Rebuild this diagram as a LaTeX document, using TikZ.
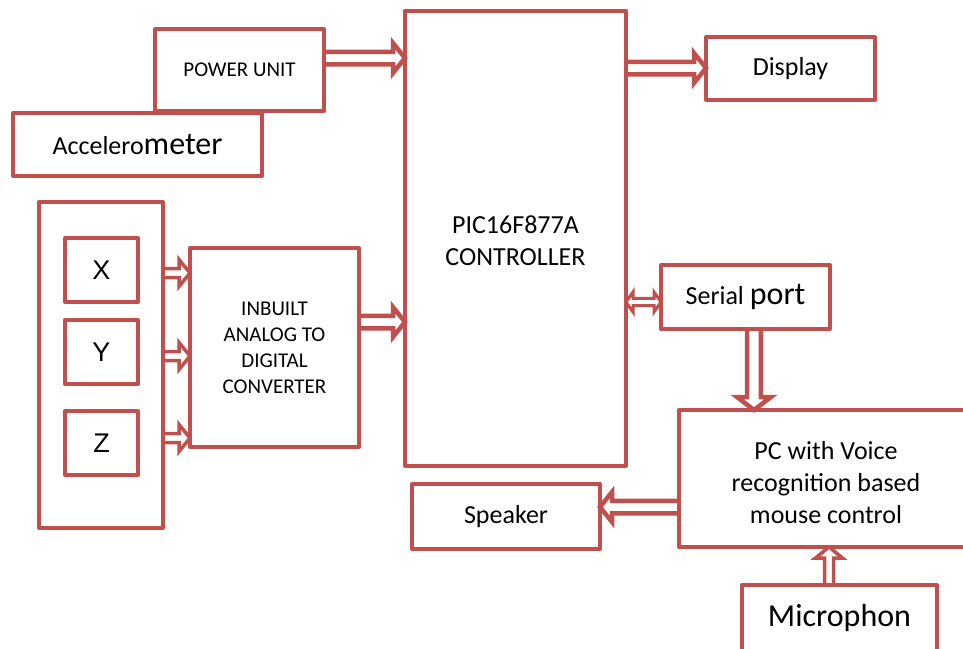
\documentclass[tikz,border=0pt]{standalone}
\usepackage{fontspec}
\setmainfont{Carlito}
\newfontfamily\arialf{Liberation Sans}
\usetikzlibrary{calc}
\definecolor{bred}{HTML}{C0504D}
\begin{document}
\begin{tikzpicture}[x=1pt,y=-1pt,
  box/.style={draw=bred, line width=4pt, fill=white, inner sep=0pt, outer sep=0pt,
    rectangle, align=center, line join=round, font=\fontsize{26}{32}\selectfont},
  txt/.style={inner sep=0pt, align=center, font=\fontsize{26}{32}\selectfont},
  smallbox/.style={box, font=\fontsize{21}{26}\selectfont},
  xyzbox/.style={box, minimum width=73pt, minimum height=64pt, font=\arialf\fontsize{27}{30}\selectfont},
  blkarrow/.style n args={3}{draw=bred, line join=miter, to path={
    ($(\tikztostart)!#1!90:(\tikztotarget)$)
    -- ($($(\tikztotarget)!#3!(\tikztostart)$)!#1!90:(\tikztotarget)$)
    -- ($($(\tikztotarget)!#3!(\tikztostart)$)!#2!90:(\tikztotarget)$)
    -- (\tikztotarget)
    -- ($($(\tikztotarget)!#3!(\tikztostart)$)!#2!-90:(\tikztotarget)$)
    -- ($($(\tikztotarget)!#3!(\tikztostart)$)!#1!-90:(\tikztotarget)$)
    -- ($(\tikztostart)!#1!-90:(\tikztotarget)$)}},
  blkdbl/.style n args={3}{draw=bred, line join=miter, to path={
    ($($(\tikztostart)!#3!(\tikztotarget)$)!#1!90:(\tikztotarget)$)
    -- ($($(\tikztotarget)!#3!(\tikztostart)$)!#1!90:(\tikztotarget)$)
    -- ($($(\tikztotarget)!#3!(\tikztostart)$)!#2!90:(\tikztotarget)$)
    -- (\tikztotarget)
    -- ($($(\tikztotarget)!#3!(\tikztostart)$)!#2!-90:(\tikztotarget)$)
    -- ($($(\tikztotarget)!#3!(\tikztostart)$)!#1!-90:(\tikztotarget)$)
    -- ($($(\tikztostart)!#3!(\tikztotarget)$)!#1!-90:(\tikztotarget)$)
    -- ($($(\tikztostart)!#3!(\tikztotarget)$)!#2!-90:(\tikztotarget)$)
    -- (\tikztostart)
    -- ($($(\tikztostart)!#3!(\tikztotarget)$)!#2!90:(\tikztotarget)$)
    -- cycle}},
  bigarr/.style={blkarrow={6.25pt}{15pt}{12pt}, line width=4.5pt},
  smlarr/.style={blkarrow={4.5pt}{13.5pt}{11pt}, line width=3.5pt},
  serarr/.style={blkarrow={6.8pt}{17pt}{13pt}, line width=4.5pt},
  dblarr/.style={blkdbl={3.6pt}{10pt}{7pt}, line width=3pt}]
\useasboundingbox (0,0) rectangle (963,648);
\clip (0,0) rectangle (963,648);
\fill[white] (0,0) rectangle (963,648);

\node[smallbox, minimum width=169pt, minimum height=82pt] (power) at (239.5,70) {POWER UNIT};
\node[box, minimum width=249pt, minimum height=63pt] (accel) at (137.5,144.5) {Accelero{\fontsize{32}{32}\selectfont meter}};
\node[box, minimum width=221pt, minimum height=455pt] (ctrl) at (515.5,238) {};
\node[txt] (ctrltext) at ($(ctrl.center)+(0,3)$) {PIC16F877A\\CONTROLLER};
\node[box, minimum width=169pt, minimum height=63pt] (display) at (790.5,68.5) {Display};

\node[box, minimum width=124pt, minimum height=326pt] (outer) at (101,365) {};
\node[xyzbox] (X) at (101.5,270) {X};
\node[xyzbox] (Y) at (101.5,352) {Y};
\node[xyzbox] (Z) at (101.5,443) {Z};

\node[smallbox, minimum width=169pt, minimum height=199pt] (adc) at (274.5,347.5) {INBUILT\\ANALOG TO\\DIGITAL\\CONVERTER};
\node[box, minimum width=169pt, minimum height=64pt] (serial) at (745.5,297) {Serial {\fontsize{32}{32}\selectfont port}};
\node[box, minimum width=294pt, minimum height=137pt] (pc) at (826,478.5) {};
\node[txt] (pctext) at ($(pc.center)+(0,4)$) {PC with Voice\\recognition based\\mouse control};
\node[box, minimum width=188pt, minimum height=65pt] (speaker) at (506,516.5) {Speaker};
\node[box, minimum width=195pt, minimum height=66pt, font=\fontsize{32}{32}\selectfont] (mic) at (839.5,618) {Microphon};

\draw[bigarr] (power.east |- 0,58) to (ctrl.west |- 0,58);
\draw[bigarr] (ctrl.east |- 0,68) to (display.west |- 0,68);
\draw[smlarr] (outer.east |- 0,273) to (adc.west |- 0,273);
\draw[smlarr] (outer.east |- 0,356) to (adc.west |- 0,356);
\draw[smlarr] (outer.east |- 0,438) to (adc.west |- 0,438);
\draw[bigarr] (adc.east |- 0,322) to (ctrl.west |- 0,322);
\draw[dblarr] (ctrl.east |- 0,302) to (serial.west |- 0,302);
\draw[serarr] (serial.south -| 754,0) to (pc.north -| 754,0);
\draw[bigarr] (pc.west |- 0,507) to (speaker.east |- 0,507);
\draw[smlarr] (mic.north -| 829,0) to (pc.south -| 829,0);
\end{tikzpicture}
\end{document}
